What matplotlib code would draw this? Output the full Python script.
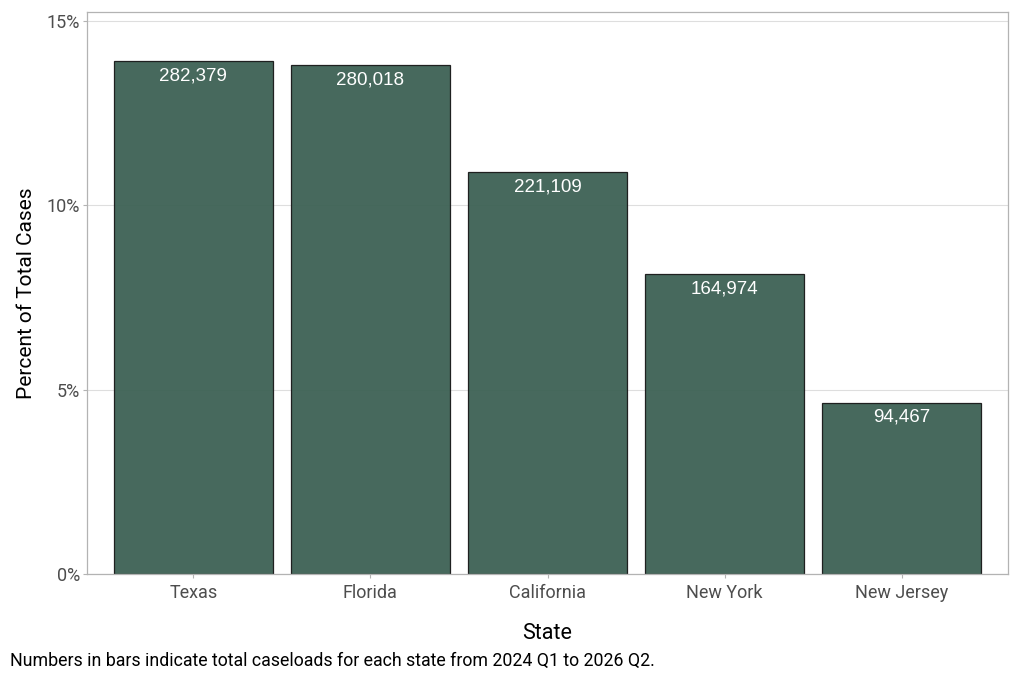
import matplotlib
matplotlib.use('Agg')
import matplotlib.pyplot as plt
from matplotlib.ticker import FuncFormatter

states = ['Texas', 'Florida', 'California', 'New York', 'New Jersey']
caseloads = [282379, 280018, 221109, 164974, 94467]
percent = [13.91, 13.79, 10.89, 8.13, 4.65]
y_ticks = [0, 5, 10, 15]

plt.rcParams['font.family'] = ['Roboto', 'DejaVu Sans']

fig = plt.figure(figsize=(10.24, 6.84), dpi=100)
ax = fig.add_axes([87 / 1024, 1 - 574 / 684, (1008 - 87) / 1024, (574 - 12) / 684])

x = list(range(len(states)))
ax.bar(x, percent, width=0.9, color='#3f6356', alpha=0.96,
       edgecolor='#1a1a1a', linewidth=0.9, zorder=2)

for xi, p, n in zip(x, percent, caseloads):
    ax.annotate(f'{n:,}', (xi, p), xytext=(0, -10.5), textcoords='offset points',
                ha='center', va='center', color='white', fontsize=13.5,
                family=['Liberation Sans', 'DejaVu Sans'], zorder=3)

ax.set_xlim(-0.6, 4.6)
ax.set_ylim(0, 15.24)
ax.set_xticks(x)
ax.set_xticklabels(states)
ax.set_yticks(y_ticks)
ax.yaxis.set_major_formatter(FuncFormatter(lambda v, _: f'{v:.0f}%'))

ax.grid(axis='y', color='#dedede', linewidth=0.8, zorder=0)
ax.set_axisbelow(True)
for s in ax.spines.values():
    s.set_color('#b3b3b3')
    s.set_linewidth(0.9)
ax.tick_params(axis='both', colors='#b3b3b3', labelcolor='#4d4d4d',
               labelsize=13, length=3, width=0.8)
ax.tick_params(axis='x', pad=4)
ax.tick_params(axis='y', pad=2)

ax.set_xlabel('State', fontsize=15.5, labelpad=15.5)
ax.set_ylabel('Percent of Total Cases', fontsize=15, labelpad=8)

fig.text(10 / 1024, 1 - 661 / 684, 'Numbers in bars indicate total caseloads for each state from 2024 Q1 to 2026 Q2.',
         fontsize=12.8, ha='left', va='center')

fig.savefig('out.png', dpi=100)
